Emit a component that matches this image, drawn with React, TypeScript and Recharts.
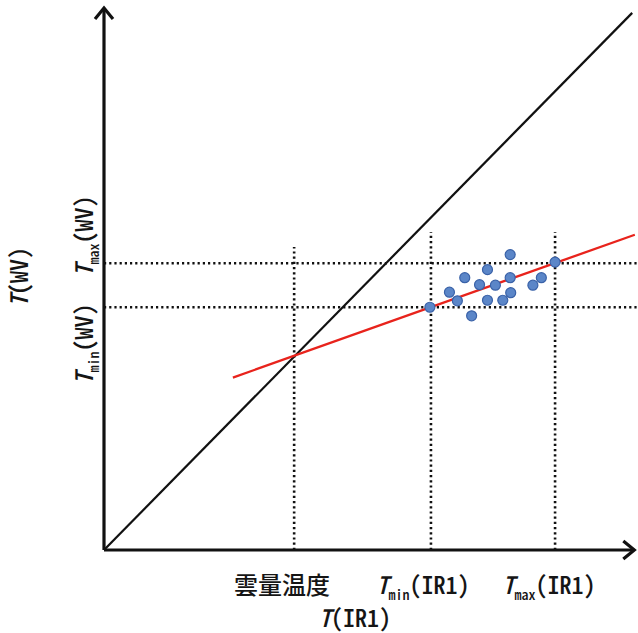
import { ComposedChart, ReferenceDot, ReferenceLine, Scatter, XAxis, YAxis } from "recharts";

// 観測値 (IR1 輝度温度, WV 輝度温度) — 任意スケール
const obsIr1 = [61.7, 65.4, 66.9, 69.6, 68.3, 71.1, 72.6, 72.6, 74.1, 75.5, 76.9, 76.9, 77.0, 81.2, 82.8, 85.4];
const obsWv = [45.2, 48.0, 46.4, 43.6, 50.7, 49.4, 52.2, 46.5, 49.3, 46.5, 55.0, 50.7, 47.9, 49.3, 50.7, 53.6];

// 回帰直線の端点
const fitIr1 = [24.4, 100.5];
const fitWv = [32.1, 58.7];

// 基準温度
const guideIr1 = [36.0, 61.9, 85.4]; // 雲量温度, Tmin(IR1), Tmax(IR1)
const guideTop = [56.4, 59.2, 59.2];
const guideWv = [45.2, 53.4]; // Tmin(WV), Tmax(WV)

const X_MAX = 101.1;
const Y_MAX = 102.4;
const X_TIP = 100.4;
const Y_TIP = 100.9;

const dots = obsIr1.map((x, i) => ({ x, y: obsWv[i] }));

const FONT = "'Noto Sans CJK JP', 'Noto Sans', sans-serif";
const hw = { fontFeatureSettings: "'hwid'" } as React.CSSProperties;

function arrowShape(dir: "up" | "right") {
  return (props: any) => {
    const { cx, cy } = props;
    const d =
      dir === "up"
        ? `M${cx - 9},${cy + 11} L${cx},${cy} L${cx + 9},${cy + 11}`
        : `M${cx - 11},${cy - 9} L${cx},${cy} L${cx - 11},${cy + 9}`;
    return <path d={d} fill="none" stroke="#111" strokeWidth={3.2} />;
  };
}

function Dot(props: any) {
  const { cx, cy } = props;
  return <circle cx={cx} cy={cy} r={5} fill="#5b86c8" stroke="#3a62a8" strokeWidth={1.2} />;
}

function SubLabel({ x, y, sub, rest, rotate }: any) {
  return (
    <text
      x={x}
      y={y}
      fontFamily={FONT}
      fontSize={24}
      fontWeight={500}
      fill="#151515"
      textAnchor="middle"
      style={hw}
      transform={rotate ? `rotate(-90, ${x}, ${y})` : undefined}
    >
      <tspan fontStyle="italic">T</tspan>
      {sub ? (
        <tspan fontSize={14} dy={6}>
          {sub}
        </tspan>
      ) : null}
      <tspan dy={sub ? -6 : 0}>{rest}</tspan>
    </text>
  );
}

export default function App() {
  const dotted = { stroke: "#111", strokeWidth: 2.6, strokeDasharray: "2.2 3" };
  return (
    <div style={{ position: "absolute", left: 0, top: 0, width: 638, height: 633, background: "#fff" }}>
      <ComposedChart width={638} height={633} margin={{ top: 0, right: 0, bottom: 83, left: 104 }}>
        <XAxis type="number" dataKey="x" domain={[0, X_MAX]} hide allowDataOverflow />
        <YAxis type="number" dataKey="y" domain={[0, Y_MAX]} hide allowDataOverflow />

        {guideWv.map((v) => (
          <ReferenceLine key={"h" + v} segment={[{ x: 0, y: v }, { x: X_MAX, y: v }]} {...dotted} />
        ))}
        {guideIr1.map((v, i) => (
          <ReferenceLine key={"v" + v} segment={[{ x: v, y: 0 }, { x: v, y: guideTop[i] }]} {...dotted} />
        ))}

        <ReferenceLine segment={[{ x: 0, y: 0 }, { x: 100, y: 100 }]} stroke="#111" strokeWidth={2.2} />
        <ReferenceLine
          segment={[{ x: fitIr1[0], y: fitWv[0] }, { x: fitIr1[1], y: fitWv[1] }]}
          stroke="#e8231c"
          strokeWidth={2.3}
        />

        <ReferenceLine segment={[{ x: 0, y: 0 }, { x: X_TIP, y: 0 }]} stroke="#111" strokeWidth={3.2} />
        <ReferenceLine segment={[{ x: 0, y: 0 }, { x: 0, y: Y_TIP }]} stroke="#111" strokeWidth={3.2} />

        <Scatter data={dots} shape={<Dot />} isAnimationActive={false} />

        <ReferenceDot x={0} y={Y_TIP} ifOverflow="visible" shape={arrowShape("up")} />
        <ReferenceDot x={X_TIP} y={0} ifOverflow="visible" shape={arrowShape("right")} />

        <text x={282} y={594} fontFamily={FONT} fontSize={24} fontWeight={500} fill="#151515" textAnchor="middle">
          雲量温度
        </text>
        <SubLabel x={423} y={594} sub="min" rest="(IR1)" />
        <SubLabel x={549} y={594} sub="max" rest="(IR1)" />
        <SubLabel x={355} y={627} rest="(IR1)" />

        <SubLabel x={28} y={277} rest="(WV)" rotate />
        <SubLabel x={93} y={236} sub="max" rest="(WV)" rotate />
        <SubLabel x={93} y={344} sub="min" rest="(WV)" rotate />
      </ComposedChart>
    </div>
  );
}
